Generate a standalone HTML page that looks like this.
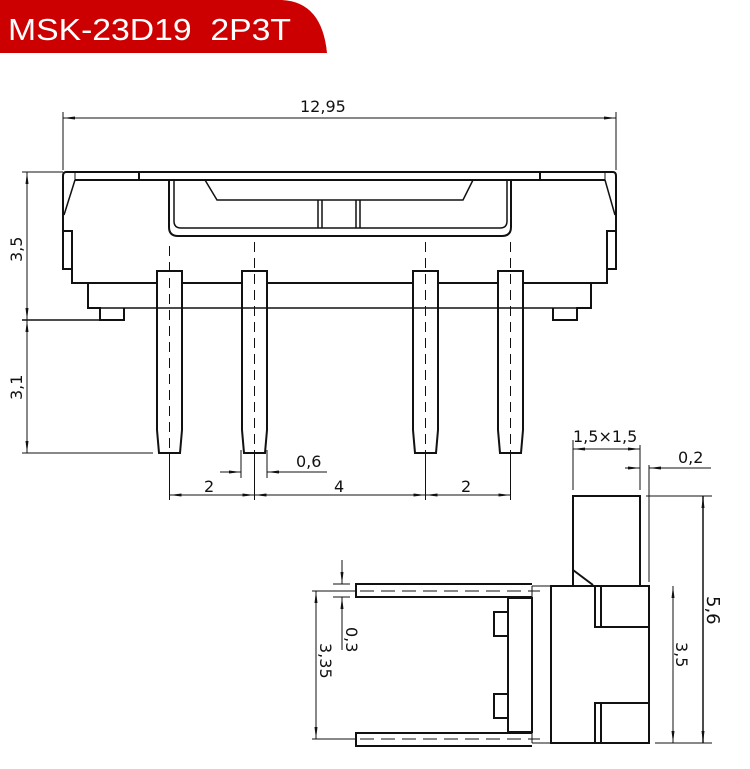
<!DOCTYPE html>
<html><head><meta charset="utf-8"><style>
html,body{margin:0;padding:0;background:#fff;width:750px;height:769px;overflow:hidden}
svg{display:block}
text{font-family:"DejaVu Sans","Liberation Sans",sans-serif;fill:#111}
</style></head><body>
<svg width="750" height="769" viewBox="0 0 750 769" xmlns="http://www.w3.org/2000/svg">
<defs>
<marker id="a" markerWidth="12" markerHeight="6" refX="12" refY="3" orient="auto" markerUnits="userSpaceOnUse"><path d="M0,1.5 L12,3 L0,4.5 Z" fill="#111"/></marker>
<marker id="b" markerWidth="12" markerHeight="6" refX="0" refY="3" orient="auto" markerUnits="userSpaceOnUse"><path d="M12,1.5 L0,3 L12,4.5 Z" fill="#111"/></marker>
</defs>
<!-- banner -->
<path d="M0,0 H282 Q322,2 327,53 H0 Z" fill="#cc0000"/>
<text x="8" y="40" font-size="31" textLength="283" lengthAdjust="spacingAndGlyphs" style="fill:#fff;font-family:'Liberation Sans',sans-serif">MSK-23D19&#160;&#160;2P3T</text>

<g stroke="#111" fill="none" stroke-width="1">
<line x1="63" y1="118" x2="616" y2="118" marker-start="url(#b)" marker-end="url(#a)"/>
<line x1="63" y1="112" x2="63" y2="170"/>
<line x1="616" y1="112" x2="616" y2="170"/>
</g>
<text x="300" y="112" font-size="16">12,95</text>

<g stroke="#111" fill="none" stroke-width="2">
<path d="M66,172 H613 Q616,172 616,176 V269 H607"/>
<path d="M66,172 Q63,172 63,176 V269 H72"/>
<line x1="75" y1="180" x2="605" y2="180"/>
<line x1="75" y1="172" x2="75" y2="180" stroke-width="1"/>
<line x1="605" y1="172" x2="605" y2="180" stroke-width="1"/>
<line x1="75" y1="180" x2="64" y2="215" stroke-width="1.5"/>
<line x1="605" y1="180" x2="615" y2="215" stroke-width="1.5"/>
<line x1="139" y1="172" x2="139" y2="180"/>
<line x1="540" y1="172" x2="540" y2="180"/>
<path d="M63,231 H72 V283 H88 V308 H100 V320 H124 V308"/>
<path d="M616,231 H607 V283 H591 V308 H577 V320 H553 V308"/>
<line x1="72" y1="283" x2="607" y2="283"/>
<line x1="88" y1="308" x2="591" y2="308" stroke-width="1.5"/>
<path d="M169,180 V227 Q169,236 178,236 H502 Q511,236 511,227 V180"/>
<path d="M174,180 V221 Q174,228 181,228 H500 Q507,228 507,221 V180" stroke-width="1.5"/>
<path d="M205,180 L217,200 H463 L473,180" stroke-width="1.5"/>
<line x1="318" y1="200" x2="318" y2="228" stroke-width="1.5"/>
<line x1="322" y1="200" x2="322" y2="228" stroke-width="1.5"/>
<line x1="356" y1="200" x2="356" y2="228" stroke-width="1.5"/>
<line x1="360" y1="200" x2="360" y2="228" stroke-width="1.5"/>
<g fill="#fff">
<path d="M157,271 H182 V430 L180,453 H159 L157,430 Z"/>
<path d="M242,271 H267 V430 L265,453 H244 L242,430 Z"/>
<path d="M413,271 H438 V430 L436,453 H415 L413,430 Z"/>
<path d="M498,271 H523 V430 L521,453 H500 L498,430 Z"/>
</g>
<line x1="157" y1="308" x2="182" y2="308" stroke-width="1.5"/>
<line x1="242" y1="308" x2="267" y2="308" stroke-width="1.5"/>
<line x1="413" y1="308" x2="438" y2="308" stroke-width="1.5"/>
<line x1="498" y1="308" x2="523" y2="308" stroke-width="1.5"/>
</g>
<g stroke="#111" stroke-width="1" stroke-dasharray="10,6" fill="none">
<line x1="169.5" y1="246" x2="169.5" y2="455"/>
<line x1="254.5" y1="242" x2="254.5" y2="455"/>
<line x1="425.5" y1="242" x2="425.5" y2="455"/>
<line x1="510.5" y1="242" x2="510.5" y2="455"/>
</g>

<g stroke="#111" fill="none" stroke-width="1">
<line x1="27" y1="172" x2="27" y2="320" marker-start="url(#b)" marker-end="url(#a)"/>
<line x1="27" y1="320" x2="27" y2="453" marker-start="url(#b)" marker-end="url(#a)"/>
<line x1="22" y1="172" x2="63" y2="172"/>
<line x1="22" y1="320" x2="99" y2="320" stroke-width="1.5"/>
<line x1="22" y1="453" x2="153" y2="453"/>
<line x1="169.5" y1="455" x2="169.5" y2="500"/>
<line x1="254.5" y1="455" x2="254.5" y2="500"/>
<line x1="425.5" y1="455" x2="425.5" y2="500"/>
<line x1="510.5" y1="455" x2="510.5" y2="500"/>
<line x1="169.5" y1="495" x2="254.5" y2="495" marker-start="url(#b)" marker-end="url(#a)"/>
<line x1="254.5" y1="495" x2="425.5" y2="495" marker-start="url(#b)" marker-end="url(#a)"/>
<line x1="425.5" y1="495" x2="510.5" y2="495" marker-start="url(#b)" marker-end="url(#a)"/>
<line x1="241" y1="450" x2="241" y2="478"/>
<line x1="267" y1="450" x2="267" y2="478"/>
<line x1="220" y1="472" x2="241" y2="472" marker-end="url(#a)"/>
<line x1="327" y1="472" x2="267" y2="472" marker-end="url(#a)"/>
</g>
<text transform="translate(22,262) rotate(-90)" font-size="16">3,5</text>
<text transform="translate(22,400) rotate(-90)" font-size="16">3,1</text>
<text x="204" y="492" font-size="16">2</text>
<text x="334" y="492" font-size="16">4</text>
<text x="461" y="492" font-size="16">2</text>
<text x="296" y="467" font-size="16">0,6</text>

<g stroke="#111" fill="none" stroke-width="2">
<path d="M573,585 V496 H640 V585"/>
<path d="M573,570 L593,585"/>
<rect x="551" y="586" width="98" height="157" fill="#fff"/>
<line x1="532" y1="586" x2="551" y2="586" stroke-width="1"/>
<line x1="532" y1="743" x2="551" y2="743" stroke-width="1"/>
<line x1="532" y1="586" x2="532" y2="743" stroke-width="1"/>
<path d="M595,586 V627 H649"/>
<line x1="601" y1="586" x2="601" y2="627"/>
<path d="M649,703 H595 V743"/>
<line x1="601" y1="703" x2="601" y2="743"/>
<rect x="508" y="598" width="24" height="134"/>
<path d="M508,612 H494 V636 H508"/>
<path d="M508,694 H494 V718 H508"/>
<path d="M532,584 H356 V597 H532"/>
<path d="M532,733 H356 V746 H532"/>
</g>
<g stroke="#111" stroke-width="1" stroke-dasharray="14,7" fill="none">
<line x1="360" y1="591" x2="540" y2="591"/>
<line x1="360" y1="739" x2="540" y2="739"/>
</g>
<g stroke="#111" fill="none" stroke-width="1">
<line x1="573" y1="440" x2="573" y2="490"/>
<line x1="640" y1="445" x2="640" y2="490"/>
<line x1="573" y1="449" x2="640" y2="449" marker-start="url(#b)" marker-end="url(#a)"/>
<line x1="625" y1="468" x2="640" y2="468" marker-end="url(#a)"/>
<line x1="711" y1="468" x2="649" y2="468" marker-end="url(#a)"/>
<line x1="649" y1="465" x2="649" y2="582"/>
<line x1="646" y1="496" x2="712" y2="496"/>
<line x1="655" y1="743" x2="712" y2="743"/>
<line x1="703" y1="496" x2="703" y2="743" stroke-width="1.5" marker-start="url(#b)" marker-end="url(#a)"/>
<line x1="673" y1="586" x2="673" y2="743" marker-start="url(#b)" marker-end="url(#a)"/>
<line x1="312" y1="591" x2="356" y2="591"/>
<line x1="312" y1="739" x2="356" y2="739"/>
<line x1="316" y1="591" x2="316" y2="739" marker-start="url(#b)" marker-end="url(#a)"/>
<line x1="333" y1="584" x2="350" y2="584"/>
<line x1="333" y1="597" x2="350" y2="597"/>
<line x1="342" y1="560" x2="342" y2="584" marker-end="url(#a)"/>
<line x1="342" y1="650" x2="342" y2="597" marker-end="url(#a)"/>
</g>
<text x="573" y="442" font-size="16">1,5×1,5</text>
<text x="678" y="463" font-size="16">0,2</text>
<text transform="translate(707,596) rotate(90)" font-size="18">5,6</text>
<text transform="translate(676,642) rotate(90)" font-size="16">3,5</text>
<text transform="translate(346,627) rotate(90)" font-size="16">0,3</text>
<text transform="translate(320,643) rotate(90)" font-size="16">3,35</text>
</svg>
</body></html>
